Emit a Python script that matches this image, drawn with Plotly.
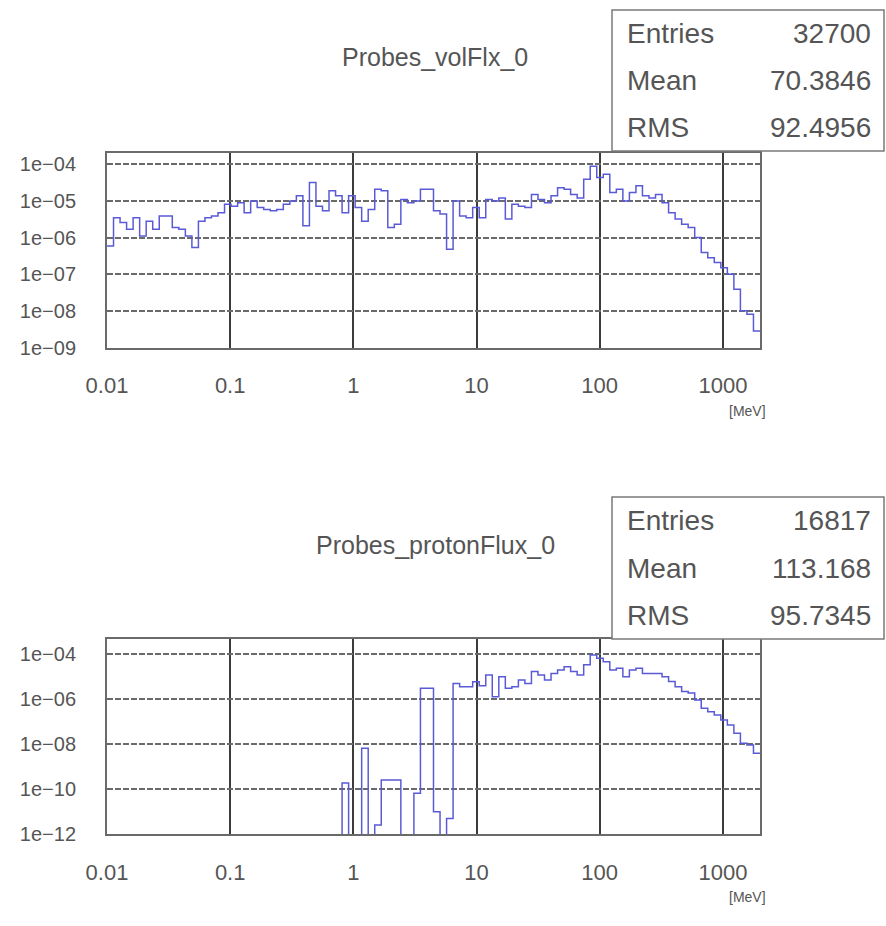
import numpy as np
import plotly.graph_objects as go

# ---------------- data ----------------
x_min, x_max, n_bins = 0.01, 2000.0, 100
x_tick_vals = [0.01, 0.1, 1, 10, 100, 1000]
x_tick_text = ["0.01", "0.1", "1", "10", "100", "1000"]

top_title = "Probes_volFlx_0"
top_stats = [("Entries", "32700"), ("Mean", "70.3846"), ("RMS", "92.4956")]
top_y_ticks = [1e-4, 1e-5, 1e-6, 1e-7, 1e-8, 1e-9]
top_y_text = ["1e\u221204", "1e\u221205", "1e\u221206", "1e\u221207", "1e\u221208", "1e\u221209"]
top_values = [
    5.9e-7, 3.5e-6, 2.6e-6, 1.7e-6, 3.5e-6, 1.1e-6, 2.8e-6, 1.7e-6, 3.9e-6, 3.9e-6,
    1.9e-6, 1.7e-6, 1.1e-6, 5.4e-7, 2.8e-6, 3.5e-6, 3.9e-6, 4.8e-6, 8.1e-6, 7.2e-6,
    8.9e-6, 4.8e-6, 1.0e-5, 6.6e-6, 5.9e-6, 5.4e-6, 5.9e-6, 8.1e-6, 1.0e-5, 1.4e-5,
    2.1e-6, 3.2e-5, 7.2e-6, 5.4e-6, 1.9e-5, 1.4e-5, 4.8e-6, 1.4e-5, 6.6e-6, 2.8e-6,
    5.9e-6, 2.1e-5, 1.9e-5, 1.9e-6, 2.3e-6, 1.1e-5, 8.9e-6, 1.0e-5, 2.1e-5, 2.1e-5,
    5.4e-6, 4.4e-6, 4.8e-7, 1.0e-5, 3.9e-6, 3.5e-6, 6.6e-6, 3.5e-6, 1.1e-5, 1.0e-5,
    1.2e-5, 3.2e-6, 8.1e-6, 7.2e-6, 6.6e-6, 1.5e-5, 1.1e-5, 8.9e-6, 1.4e-5, 2.3e-5,
    2.1e-5, 1.5e-5, 1.2e-5, 3.9e-5, 8.9e-5, 4.4e-5, 5.4e-5, 1.7e-5, 2.1e-5, 1.0e-5,
    1.7e-5, 2.6e-5, 1.4e-5, 1.2e-5, 1.5e-5, 8.9e-6, 4.8e-6, 3.2e-6, 2.3e-6, 1.9e-6,
    1.0e-6, 3.9e-7, 2.8e-7, 2.1e-7, 1.5e-7, 1.0e-7, 3.9e-8, 1.0e-8, 8.1e-9, 2.8e-9,
]

bot_title = "Probes_protonFlux_0"
bot_stats = [("Entries", "16817"), ("Mean", "113.168"), ("RMS", "95.7345")]
bot_y_ticks = [1e-4, 1e-6, 1e-8, 1e-10, 1e-12]
bot_y_text = ["1e\u221204", "1e\u221206", "1e\u221208", "1e\u221210", "1e\u221212"]
bot_values = [
    0, 0, 0, 0, 0, 0, 0, 0, 0, 0,
    0, 0, 0, 0, 0, 0, 0, 0, 0, 0,
    0, 0, 0, 0, 0, 0, 0, 0, 0, 0,
    0, 0, 0, 0, 0, 0, 1.9e-10, 0, 0, 6.6e-9,
    0, 2.6e-12, 2.6e-10, 2.6e-10, 2.6e-10, 0, 0, 6.6e-11, 3.1e-6, 3.1e-6,
    1.0e-11, 0, 5.1e-12, 5.1e-6, 3.6e-6, 3.6e-6, 6.0e-6, 4.0e-6, 1.2e-5, 1.3e-6,
    1.0e-5, 3.1e-6, 3.6e-6, 7.2e-6, 5.1e-6, 1.7e-5, 1.2e-5, 7.2e-6, 1.4e-5, 2.0e-5,
    2.8e-5, 1.7e-5, 1.2e-5, 3.4e-5, 9.3e-5, 6.6e-5, 4.7e-5, 2.0e-5, 2.4e-5, 1.0e-5,
    2.0e-5, 2.4e-5, 1.4e-5, 1.4e-5, 1.4e-5, 1.0e-5, 6.2e-6, 3.6e-6, 2.2e-6, 1.9e-6,
    9.3e-7, 4.0e-7, 2.8e-7, 2.0e-7, 1.2e-7, 7.2e-8, 3.1e-8, 1.1e-8, 9.3e-9, 4.0e-9,
]
unit_label = "[MeV]"

# ---------------- helpers ----------------
W, H = 886, 926
FONT = "Liberation Sans Narrow, Liberation Sans, DejaVu Sans, sans-serif"
TXT = "#555555"
LINE = "#5a5ad6"

edges = np.logspace(np.log10(x_min), np.log10(x_max), n_bins + 1)


def steps(values, floor):
    xs, ys = [], []
    for i, v in enumerate(values):
        v = v if v > 0 else floor
        xs += [edges[i], edges[i + 1]]
        ys += [v, v]
    return xs, ys


def px(x):
    return x / W


def py(y):
    return 1 - y / H


fig = go.Figure()
tx, ty = steps(top_values, 1e-14)
bx, by = steps(bot_values, 1e-14)
fig.add_trace(go.Scatter(x=tx, y=ty, mode="lines", line=dict(color=LINE, width=1.5),
                         xaxis="x", yaxis="y", showlegend=False, hoverinfo="skip"))
fig.add_trace(go.Scatter(x=bx, y=by, mode="lines", line=dict(color=LINE, width=1.5),
                         xaxis="x2", yaxis="y2", showlegend=False, hoverinfo="skip"))

xl, xr = 107, 760
common_x = dict(type="log", range=[np.log10(x_min), np.log10(x_max)],
                tickvals=x_tick_vals, ticktext=x_tick_text,
                showgrid=True, gridcolor="#3c3c3c", gridwidth=1.6,
                showline=True, mirror=True, linecolor="#6a6a6a", linewidth=2,
                ticks="", ticklabelstandoff=17, zeroline=False, automargin=False,
                tickfont=dict(family=FONT, size=22, color=TXT),
                domain=[px(xl), px(xr)])
common_y = dict(type="log", showgrid=True, gridcolor="#6a6a6a", gridwidth=1.5,
                griddash="6px,2px",
                showline=True, mirror=True, linecolor="#6a6a6a", linewidth=2,
                ticks="", ticklabelstandoff=25, zeroline=False, automargin=False,
                tickfont=dict(family=FONT, size=20, color=TXT))

fig.update_layout(
    width=W, height=H, margin=dict(l=0, r=0, t=0, b=0),
    paper_bgcolor="white", plot_bgcolor="white",
    xaxis=dict(common_x, anchor="y"),
    yaxis=dict(common_y, anchor="x", range=[-9, -3.69],
               tickvals=top_y_ticks, ticktext=top_y_text,
               domain=[py(347.5), py(153)]),
    xaxis2=dict(common_x, anchor="y2"),
    yaxis2=dict(common_y, anchor="x2", range=[-12, -3.32],
                tickvals=bot_y_ticks, ticktext=bot_y_text,
                domain=[py(834.3), py(639)]),
)

annotations = []
shapes = []
for title, ty_c, stats, box_top, box_bot, unit_y in [
    (top_title, 57, top_stats, 10, 151, 411),
    (bot_title, 545, bot_stats, 497, 639, 897),
]:
    annotations.append(dict(text=title, x=px(435), y=py(ty_c), xref="paper", yref="paper",
                            showarrow=False, xanchor="center", yanchor="middle",
                            font=dict(family=FONT, size=25, color=TXT)))
    shapes.append(dict(type="rect", xref="paper", yref="paper",
                       x0=px(612), x1=px(884), y0=py(box_bot), y1=py(box_top),
                       line=dict(color="#7a7a7a", width=1.5), fillcolor="white", layer="above"))
    row_h = (box_bot - box_top) / 3
    for i, (lab, val) in enumerate(stats):
        yc = box_top + row_h * (i + 0.5)
        annotations.append(dict(text=lab, x=px(625), y=py(yc), xref="paper", yref="paper",
                                showarrow=False, xanchor="left", yanchor="middle",
                                font=dict(family=FONT, size=28, color=TXT)))
        annotations.append(dict(text=val, x=px(873), y=py(yc), xref="paper", yref="paper",
                                showarrow=False, xanchor="right", yanchor="middle",
                                font=dict(family=FONT, size=28, color=TXT)))
    annotations.append(dict(text=unit_label, x=px(747), y=py(unit_y), xref="paper", yref="paper",
                            showarrow=False, xanchor="center", yanchor="middle",
                            font=dict(family=FONT, size=14, color=TXT)))

fig.update_layout(annotations=annotations, shapes=shapes)

fig.write_html("out.html", config={"displayModeBar": False},
               post_script="document.body.style.margin='0';")
